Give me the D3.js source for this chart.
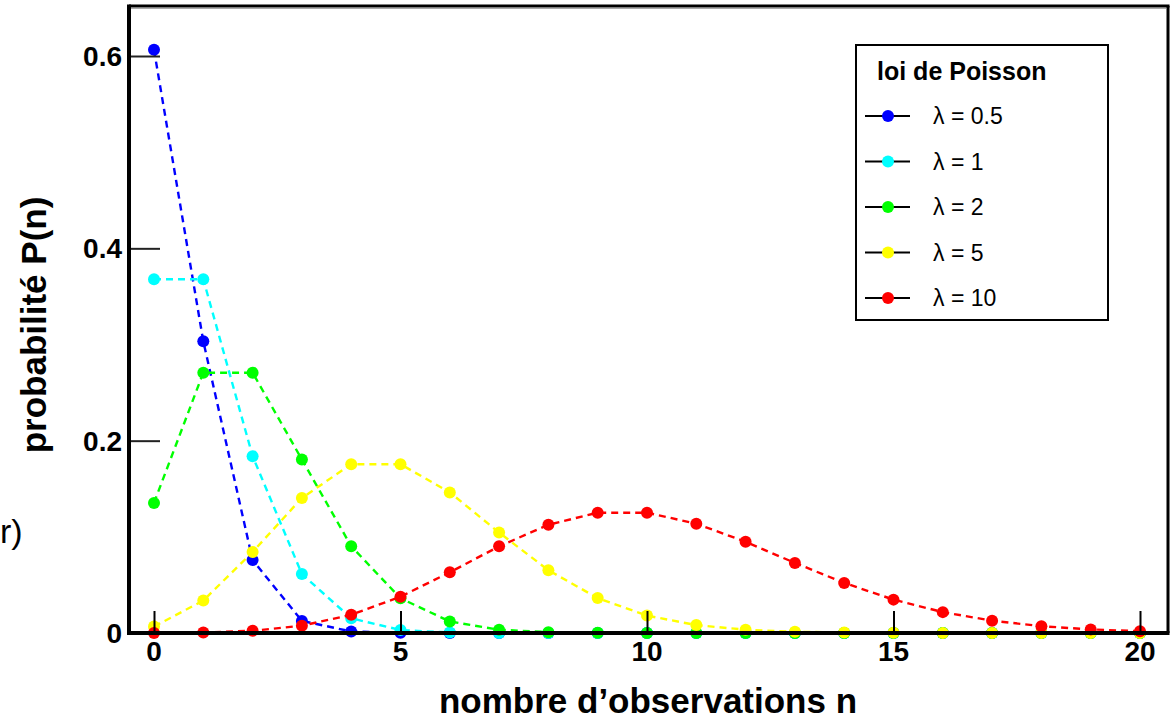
<!DOCTYPE html>
<html>
<head>
<meta charset="utf-8">
<script src="https://cdn.jsdelivr.net/npm/d3@7"></script>
<style>
  html, body { margin: 0; padding: 0; background: #fff; }
  svg { display: block; font-family: "Liberation Sans", Arial, Helvetica, sans-serif; }
</style>
</head>
<body>
<svg id="chart" width="1171" height="721"></svg>
<script>
// Poisson probabilities P(n) for n = 0..20
const nValues = d3.range(0, 21);
const lambdas = ["0.5", "1", "2", "5", "10"];
const colors = ["#0000ff", "#00ffff", "#00ff00", "#ffff00", "#ff0000"];

const pLambda05 = [0.6065, 0.3033, 0.0758, 0.0126, 0.0016, 0.0002, 0.0000, 0.0000, 0.0000, 0.0000, 0.0000,
                   0.0000, 0.0000, 0.0000, 0.0000, 0.0000, 0.0000, 0.0000, 0.0000, 0.0000, 0.0000];
const pLambda1  = [0.3679, 0.3679, 0.1839, 0.0613, 0.0153, 0.0031, 0.0005, 0.0001, 0.0000, 0.0000, 0.0000,
                   0.0000, 0.0000, 0.0000, 0.0000, 0.0000, 0.0000, 0.0000, 0.0000, 0.0000, 0.0000];
const pLambda2  = [0.1353, 0.2707, 0.2707, 0.1804, 0.0902, 0.0361, 0.0120, 0.0034, 0.0009, 0.0002, 0.0000,
                   0.0000, 0.0000, 0.0000, 0.0000, 0.0000, 0.0000, 0.0000, 0.0000, 0.0000, 0.0000];
const pLambda5  = [0.0067, 0.0337, 0.0842, 0.1404, 0.1755, 0.1755, 0.1462, 0.1044, 0.0653, 0.0363, 0.0181,
                   0.0082, 0.0034, 0.0013, 0.0005, 0.0002, 0.0000, 0.0000, 0.0000, 0.0000, 0.0000];
const pLambda10 = [0.0000, 0.0005, 0.0023, 0.0076, 0.0189, 0.0378, 0.0631, 0.0901, 0.1126, 0.1251, 0.1251,
                   0.1137, 0.0948, 0.0729, 0.0521, 0.0347, 0.0217, 0.0128, 0.0071, 0.0037, 0.0019];
const seriesValues = [pLambda05, pLambda1, pLambda2, pLambda5, pLambda10];

const xTicks = [0, 5, 10, 15, 20];
const yTicks = [0, 0.2, 0.4, 0.6];
const yTickLabels = ["0", "0.2", "0.4", "0.6"];

const legendTitle = "loi de Poisson";
const xTitle = "nombre d\u2019observations n";
const yTitle = "probabilit\u00e9 P(n)";

const svg = d3.select("#chart");

// Frame of the plotting area
const frame = { left: 129, right: 1168, top: 6, bottom: 633 };

const x = d3.scaleLinear().domain([0, 20]).range([154, 1140]);
const y = d3.scaleLinear().domain([0, 0.6]).range([633, 56]);

// caption fragment at the far left edge
svg.append("text")
  .attr("x", 0).attr("y", 543)
  .attr("font-size", 34)
  .attr("fill", "#000")
  .text("r)");

// Data: dashed lines with round markers, one series after another
const line = d3.line().x((d, i) => x(nValues[i])).y(d => y(d));

seriesValues.forEach((vals, s) => {
  const g = svg.append("g");
  g.append("path")
    .datum(vals)
    .attr("d", line)
    .attr("fill", "none")
    .attr("stroke", colors[s])
    .attr("stroke-width", 2.4)
    .attr("stroke-dasharray", "7,5");
  g.selectAll("circle")
    .data(vals)
    .join("circle")
    .attr("cx", (d, i) => x(nValues[i]))
    .attr("cy", d => y(d))
    .attr("r", 6)
    .attr("fill", colors[s]);
});

// Plot frame
svg.append("line").attr("x1", frame.left).attr("x2", frame.right + 1.5)
  .attr("y1", frame.top).attr("y2", frame.top)
  .attr("stroke", "#000").attr("stroke-width", 3);
svg.append("line").attr("x1", frame.left + 2).attr("x2", frame.right - 2)
  .attr("y1", frame.top + 2.5).attr("y2", frame.top + 2.5)
  .attr("stroke", "#aaa").attr("stroke-width", 1);
svg.append("line").attr("x1", frame.right).attr("x2", frame.right)
  .attr("y1", frame.top).attr("y2", frame.bottom)
  .attr("stroke", "#000").attr("stroke-width", 3);
svg.append("line").attr("x1", frame.left).attr("x2", frame.left)
  .attr("y1", frame.top - 1.5).attr("y2", frame.bottom + 2)
  .attr("stroke", "#000").attr("stroke-width", 4);
svg.append("line").attr("x1", frame.left - 2).attr("x2", frame.right + 1.5)
  .attr("y1", frame.bottom).attr("y2", frame.bottom)
  .attr("stroke", "#000").attr("stroke-width", 4);

// Y axis: ticks pointing into the plot
const yAxis = d3.axisRight(y)
  .tickValues(yTicks.filter(v => v > 0))
  .tickSize(29)
  .tickFormat("");
const yAxisG = svg.append("g")
  .attr("transform", `translate(${frame.left + 2},0)`)
  .call(yAxis);
yAxisG.select(".domain").remove();
yAxisG.selectAll(".tick line").attr("stroke", "#222").attr("stroke-width", 2);

svg.append("g").selectAll("text")
  .data(yTicks)
  .join("text")
  .attr("x", 122)
  .attr("y", d => y(d) + 10)
  .attr("text-anchor", "end")
  .attr("font-size", 28)
  .attr("font-weight", "bold")
  .attr("fill", "#000")
  .text((d, i) => yTickLabels[i]);

// X axis: ticks pointing up into the plot
const xAxis = d3.axisTop(x)
  .tickValues(xTicks)
  .tickSize(20)
  .tickFormat("");
const xAxisG = svg.append("g")
  .attr("transform", `translate(0,${frame.bottom - 2})`)
  .call(xAxis);
xAxisG.select(".domain").remove();
xAxisG.selectAll(".tick line").attr("stroke", "#000").attr("stroke-width", 2);

svg.append("g").selectAll("text")
  .data(xTicks)
  .join("text")
  .attr("x", d => x(d))
  .attr("y", 661)
  .attr("text-anchor", "middle")
  .attr("font-size", 28)
  .attr("font-weight", "bold")
  .attr("fill", "#000")
  .text(d => d);

// Axis titles
svg.append("text")
  .attr("x", 648).attr("y", 713)
  .attr("text-anchor", "middle")
  .attr("font-size", 35)
  .attr("font-weight", "bold")
  .attr("fill", "#000")
  .text(xTitle);

svg.append("text")
  .attr("transform", "translate(46,325) rotate(-90)")
  .attr("text-anchor", "middle")
  .attr("font-size", 35)
  .attr("font-weight", "bold")
  .attr("fill", "#000")
  .text(yTitle);

// Legend
const legend = svg.append("g");
legend.append("rect")
  .attr("x", 856).attr("y", 45)
  .attr("width", 252).attr("height", 275)
  .attr("fill", "#fff")
  .attr("stroke", "#000")
  .attr("stroke-width", 2);
legend.append("text")
  .attr("x", 877).attr("y", 80)
  .attr("font-size", 25)
  .attr("font-weight", "bold")
  .attr("fill", "#000")
  .text(legendTitle);

const legendY = d3.scalePoint().domain(lambdas).range([116, 298]);
lambdas.forEach((lam, s) => {
  const cy = legendY(lam);
  legend.append("line")
    .attr("x1", 865).attr("x2", 910)
    .attr("y1", cy).attr("y2", cy)
    .attr("stroke", "#000").attr("stroke-width", 2);
  legend.append("circle")
    .attr("cx", 888).attr("cy", cy).attr("r", 6)
    .attr("fill", colors[s]);
  legend.append("text")
    .attr("x", 933).attr("y", cy + 8)
    .attr("font-size", 23)
    .attr("fill", "#000")
    .text("\u03bb = " + lam);
});
</script>
</body>
</html>
